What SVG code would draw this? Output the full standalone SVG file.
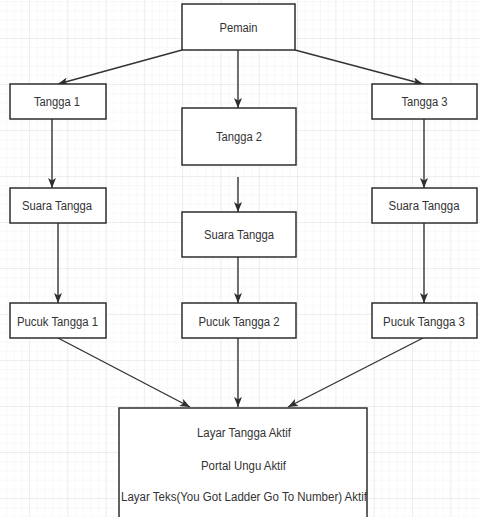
<svg xmlns="http://www.w3.org/2000/svg" width="480" height="517" viewBox="0 0 480 517">
  <defs>
    <pattern id="minor" x="29" y="38" width="7.66" height="9.2" patternUnits="userSpaceOnUse">
      <path d="M0,0 V9.2 M0,0 H7.66" fill="none" stroke="#f2f2f2" stroke-width="1"/>
    </pattern>
    <pattern id="major" x="29" y="38" width="38.3" height="46" patternUnits="userSpaceOnUse">
      <path d="M0,0 V46 M0,0 H38.3" fill="none" stroke="#e4e4e4" stroke-width="1"/>
    </pattern>
    <marker id="arrow" viewBox="0 0 10 8" refX="10" refY="4" markerWidth="10" markerHeight="8" markerUnits="userSpaceOnUse" orient="auto">
      <path d="M0,0 L10,4 L0,8 L2.5,4 Z" fill="#2e2e2e"/>
    </marker>
  </defs>
  <style>
    .box { fill: #ffffff; stroke: #2e2e2e; stroke-width: 1.5; }
    .lbl { font-family: "Liberation Sans", Arial, sans-serif; font-size: 12px; fill: #333333; text-anchor: middle; }
    .edge { fill: none; stroke: #333333; stroke-width: 1.4; marker-end: url(#arrow); }
  </style>

  <!-- background grid -->
  <rect width="480" height="517" fill="#ffffff"/>
  <rect width="480" height="517" fill="url(#minor)"/>
  <rect width="480" height="517" fill="url(#major)"/>

  <!-- connectors -->
  <g id="edges">
    <path class="edge" d="M182,50 L58,84"/>
    <path class="edge" d="M238,50 L238,108"/>
    <path class="edge" d="M295,50 L423,84"/>
    <path class="edge" d="M52,119 L52,188"/>
    <path class="edge" d="M238,177 L238,212"/>
    <path class="edge" d="M424,119 L424,188"/>
    <path class="edge" d="M58,223 L58,303"/>
    <path class="edge" d="M238,257 L238,303"/>
    <path class="edge" d="M424,223 L424,303"/>
    <path class="edge" d="M58,338 L190,407"/>
    <path class="edge" d="M238,338 L238,407"/>
    <path class="edge" d="M423,338 L288,407"/>
  </g>

  <!-- nodes -->
  <g id="pemain">
    <rect class="box" x="182" y="4" width="113" height="46"/>
    <text class="lbl" x="238.5" y="31.5" textLength="38" lengthAdjust="spacingAndGlyphs">Pemain</text>
  </g>
  <g id="tangga1">
    <rect class="box" x="10" y="84" width="96" height="35"/>
    <text class="lbl" x="57" y="106" textLength="46" lengthAdjust="spacingAndGlyphs">Tangga 1</text>
  </g>
  <g id="tangga2">
    <rect class="box" x="182" y="108" width="114" height="57"/>
    <text class="lbl" x="239" y="141" textLength="46" lengthAdjust="spacingAndGlyphs">Tangga 2</text>
  </g>
  <g id="tangga3">
    <rect class="box" x="372" y="84" width="105" height="35"/>
    <text class="lbl" x="424.5" y="106" textLength="46" lengthAdjust="spacingAndGlyphs">Tangga 3</text>
  </g>
  <g id="suara1">
    <rect class="box" x="10" y="188" width="96" height="35"/>
    <text class="lbl" x="57" y="210" textLength="70" lengthAdjust="spacingAndGlyphs">Suara Tangga</text>
  </g>
  <g id="suara2">
    <rect class="box" x="182" y="212" width="114" height="45"/>
    <text class="lbl" x="239" y="239" textLength="70" lengthAdjust="spacingAndGlyphs">Suara Tangga</text>
  </g>
  <g id="suara3">
    <rect class="box" x="372" y="188" width="105" height="35"/>
    <text class="lbl" x="424" y="210" textLength="71" lengthAdjust="spacingAndGlyphs">Suara Tangga</text>
  </g>
  <g id="pucuk1">
    <rect class="box" x="10" y="303" width="96" height="35"/>
    <text class="lbl" x="57.5" y="325.5" textLength="81" lengthAdjust="spacingAndGlyphs">Pucuk Tangga 1</text>
  </g>
  <g id="pucuk2">
    <rect class="box" x="182" y="303" width="114" height="35"/>
    <text class="lbl" x="239" y="325.5" textLength="81" lengthAdjust="spacingAndGlyphs">Pucuk Tangga 2</text>
  </g>
  <g id="pucuk3">
    <rect class="box" x="372" y="303" width="105" height="35"/>
    <text class="lbl" x="424" y="325.5" textLength="82" lengthAdjust="spacingAndGlyphs">Pucuk Tangga 3</text>
  </g>
  <g id="layar">
    <rect class="box" x="119" y="408" width="248" height="120"/>
    <text class="lbl" x="244" y="437" textLength="94" lengthAdjust="spacingAndGlyphs">Layar Tangga Aktif</text>
    <text class="lbl" x="243.5" y="470" textLength="85" lengthAdjust="spacingAndGlyphs">Portal Ungu Aktif</text>
    <text class="lbl" x="244" y="501" textLength="246" lengthAdjust="spacingAndGlyphs">Layar Teks(You Got Ladder Go To Number) Aktif</text>
  </g>
</svg>
